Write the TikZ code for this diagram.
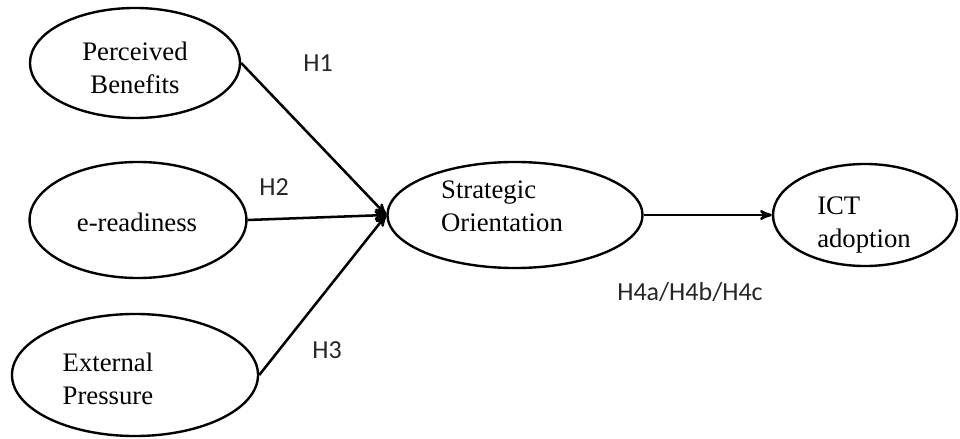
\documentclass[tikz,border=0pt]{standalone}
\usepackage{fontspec}
\setmainfont{Liberation Serif}
\newfontfamily\hypfont{Carlito}
\usetikzlibrary{arrows,shapes.geometric,positioning}

\begin{document}
\begin{tikzpicture}[%
	x=0.025cm, y=-0.025cm,
	construct/.style = {shape=ellipse, draw, line width=1.7pt, inner sep=0pt},
	ctext/.style = {align=left, inner sep=0pt, font=\fontsize{19}{23.4}\selectfont},
	hyp/.style = {inner sep=0pt, font=\hypfont\fontsize{18.5}{22}\selectfont, text=black!85},
	path/.style = {->, >=stealth', line width=1.8pt}
	]
  \useasboundingbox (0,0) rectangle (960,439);
  % constructs
  \node [construct, minimum width=5.25cm, minimum height=2.75cm] (benefits) at (135,63) {};
  \node [construct, minimum width=5.42cm, minimum height=2.9cm] (ready) at (138,220) {};
  \node [construct, minimum width=6.15cm, minimum height=3.05cm] (pressure) at (135,375) {};
  \node [construct, minimum width=6.375cm, minimum height=2.65cm] (orient) at (515,215) {};
  \node [construct, minimum width=4.6cm, minimum height=2.55cm] (ict) at (865,215) {};
  % construct texts
  \node [ctext, align=center] (benefitsT) at (135,68) {Perceived\\Benefits};
  \node [ctext] (readyT) at (137,222) {e-readiness};
  \node [ctext] (pressureT) at (108,379) {External\\Pressure};
  \node [ctext] (orientT) at (502,206) {Strategic\\Orientation};
  \node [ctext] (ictT) at (864,225) {ICT\\adoption};
  % hypotheses
  \draw [path] (benefits.east) -- (orient.west);
  \draw [path] (ready.east) -- (orient.west);
  \draw [path] (pressure.east) -- (orient.west);
  \draw [path] (orient.east) -- (ict.west);
  \node [hyp] (h1) at (318,63) {H1};
  \node [hyp] (h2) at (274,187) {H2};
  \node [hyp] (h3) at (327,350) {H3};
  \node [hyp] (h4) at (690,292) {H4a/H4b/H4c};
\end{tikzpicture}
\end{document}
